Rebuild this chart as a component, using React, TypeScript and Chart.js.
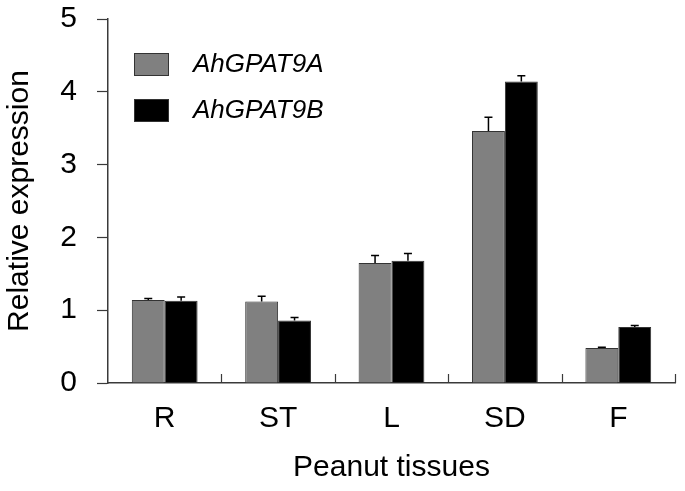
import React, { useEffect, useRef } from "react";
import { Chart, registerables } from "chart.js";

Chart.register(...registerables);

const categories = ["R", "ST", "L", "SD", "F"];
const seriesLabels = ["AhGPAT9A", "AhGPAT9B"];
const valuesA = [1.14, 1.12, 1.65, 3.46, 0.48];
const valuesB = [1.13, 0.86, 1.68, 4.14, 0.77];
const errorsA = [0.02, 0.07, 0.1, 0.19, 0.01];
const errorsB = [0.05, 0.04, 0.1, 0.08, 0.02];
const yTicks = [0, 1, 2, 3, 4, 5];

const FONT = '"Liberation Sans", Arial, sans-serif';
const AXIS_COLOR = "#3a3a3a";

const errorBarPlugin = {
  id: "errorBars",
  afterDatasetsDraw(chart: any) {
    const ctx = chart.ctx;
    const yScale = chart.scales.y;
    const errs = [errorsA, errorsB];
    ctx.save();
    ctx.strokeStyle = "#000";
    ctx.lineWidth = 1.5;
    chart.data.datasets.forEach((ds: any, di: number) => {
      const meta = chart.getDatasetMeta(di);
      meta.data.forEach((bar: any, i: number) => {
        const v = ds.data[i];
        const e = errs[di][i];
        if (!e) return;
        const yTop = yScale.getPixelForValue(v + e);
        const yBase = yScale.getPixelForValue(v);
        ctx.beginPath();
        ctx.moveTo(bar.x, yBase);
        ctx.lineTo(bar.x, yTop);
        ctx.moveTo(bar.x - 4, yTop);
        ctx.lineTo(bar.x + 4, yTop);
        ctx.stroke();
      });
    });
    ctx.restore();
  },
};

const xTickPlugin = {
  id: "xInnerTicks",
  afterDraw(chart: any) {
    const ctx = chart.ctx;
    const xScale = chart.scales.x;
    const area = chart.chartArea;
    const n = categories.length;
    const w = (area.right - area.left) / n;
    ctx.save();
    ctx.strokeStyle = AXIS_COLOR;
    ctx.lineWidth = 1.2;
    for (let k = 1; k <= n; k++) {
      const x = Math.round(xScale.left + w * k) + 0.5;
      ctx.beginPath();
      ctx.moveTo(x, area.bottom);
      ctx.lineTo(x, area.bottom - 9);
      ctx.stroke();
    }
    ctx.restore();
  },
};

const legendPlugin = {
  id: "innerLegend",
  afterDraw(chart: any) {
    const ctx = chart.ctx;
    const area = chart.chartArea;
    ctx.save();
    chart.data.datasets.forEach((ds: any, i: number) => {
      const bx = area.left + 26;
      const by = area.top + 34 + i * 46;
      ctx.fillStyle = ds.backgroundColor;
      ctx.fillRect(bx, by, 35, 23);
      ctx.strokeStyle = "#333";
      ctx.lineWidth = 1;
      ctx.strokeRect(bx + 0.5, by + 0.5, 34, 22);
      ctx.fillStyle = "#000";
      ctx.font = `italic 26px ${FONT}`;
      ctx.textBaseline = "middle";
      ctx.textAlign = "left";
      ctx.fillText(ds.label, bx + 59, by + 12);
    });
    ctx.restore();
  },
};

export default function App() {
  const ref = useRef<HTMLCanvasElement>(null);

  useEffect(() => {
    document.body.style.margin = "0";
    const canvas = ref.current;
    if (!canvas) return;
    const chart = new Chart(canvas, {
      type: "bar",
      data: {
        labels: categories,
        datasets: [
          {
            label: seriesLabels[0],
            data: valuesA,
            backgroundColor: "#808080",
            borderColor: "#333333",
            borderWidth: 1,
            categoryPercentage: 0.58,
            barPercentage: 1,
          },
          {
            label: seriesLabels[1],
            data: valuesB,
            backgroundColor: "#000000",
            borderColor: "#333333",
            borderWidth: 1,
            categoryPercentage: 0.58,
            barPercentage: 1,
          },
        ],
      },
      options: {
        responsive: false,
        animation: false,
        layout: { padding: { top: 19, right: 10, left: 0, bottom: 0 } },
        plugins: {
          legend: { display: false },
          tooltip: { enabled: false },
        },
        scales: {
          x: {
            grid: { display: false, drawTicks: false },
            border: { display: true, color: AXIS_COLOR, width: 1.5 },
            ticks: {
              color: "#000",
              padding: 18,
              font: { family: FONT, size: 30 },
            },
            title: {
              display: true,
              text: "Peanut tissues",
              color: "#000",
              font: { family: FONT, size: 30 },
              padding: { top: 0, bottom: 5 },
            },
            afterFit(scale: any) {
              scale.height = 108;
              scale.paddingLeft = 0;
              scale.paddingRight = 0;
            },
          },
          y: {
            min: 0,
            max: 5,
            afterBuildTicks(scale: any) {
              scale.ticks = yTicks.map((v) => ({ value: v }));
            },
            grid: {
              display: true,
              drawOnChartArea: false,
              drawTicks: true,
              tickLength: 11,
              tickColor: AXIS_COLOR,
              tickWidth: 1.2,
            },
            border: { display: true, color: AXIS_COLOR, width: 1.5 },
            ticks: {
              color: "#000",
              padding: 20,
              font: { family: FONT, size: 30 },
            },
            title: {
              display: true,
              text: "Relative expression",
              color: "#000",
              font: { family: FONT, size: 30 },
              padding: { top: 2, bottom: 0 },
            },
            afterFit(scale: any) {
              scale.width = 108;
              scale.paddingTop = 0;
              scale.paddingBottom = 0;
            },
          },
        },
      },
      plugins: [errorBarPlugin, xTickPlugin, legendPlugin],
    });
    return () => chart.destroy();
  }, []);

  return (
    <div style={{ width: 685, height: 491 }}>
      <canvas ref={ref} width={685} height={491} />
    </div>
  );
}
